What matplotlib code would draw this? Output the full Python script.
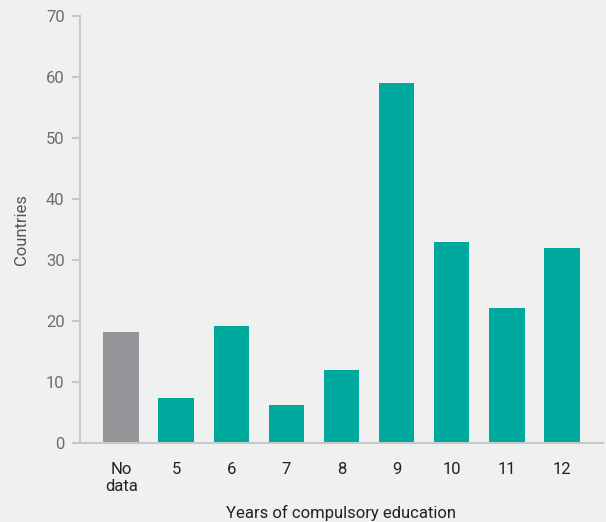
import matplotlib.pyplot as plt

categories = ['No\ndata', '5', '6', '7', '8', '9', '10', '11', '12']
countries = [18.2, 7.3, 19.2, 6.2, 12, 59, 33, 22.1, 31.9]
bar_colors = ['#939598'] + ['#00a99d'] * 8

plt.rcParams['font.family'] = ['Roboto', 'DejaVu Sans']

fig = plt.figure(figsize=(6.06, 5.22), dpi=100, facecolor='#f0f0f0')
ax = fig.add_axes([80 / 606, 79 / 522, 523 / 606, 427 / 522])
ax.set_facecolor('#f0f0f0')

x = range(len(categories))
ax.bar(x, countries, width=0.65, color=bar_colors, zorder=2)

ax.set_xlim(-0.75, 8.75)
ax.set_ylim(0, 70)
ax.set_yticks(range(0, 71, 10))
ax.set_xticks(list(x))
ax.set_xticklabels(categories, fontsize=12, color='#222222', linespacing=1.1)

for s in ['top', 'right', 'bottom']:
    ax.spines[s].set_visible(False)
ax.spines['left'].set_color('#c8c8c8')
ax.spines['left'].set_linewidth(1.5)
ax.tick_params(axis='y', colors='#c8c8c8', length=6, width=1.5, labelsize=12,
               labelcolor='#6d6d6d', pad=5)
ax.tick_params(axis='x', length=0, pad=14)

# bottom axis line, extends a bit left of the spine
ax.plot([-0.012, 1.0], [0, 0], transform=ax.transAxes, color='#c8c8c8',
        linewidth=1.5, clip_on=False, zorder=3)

ax.set_ylabel('Countries', fontsize=12, color='#555555', labelpad=12)
ax.set_xlabel('Years of compulsory education', fontsize=12, color='#222222', labelpad=8)

plt.savefig('out.png', dpi=100, facecolor='#f0f0f0')
